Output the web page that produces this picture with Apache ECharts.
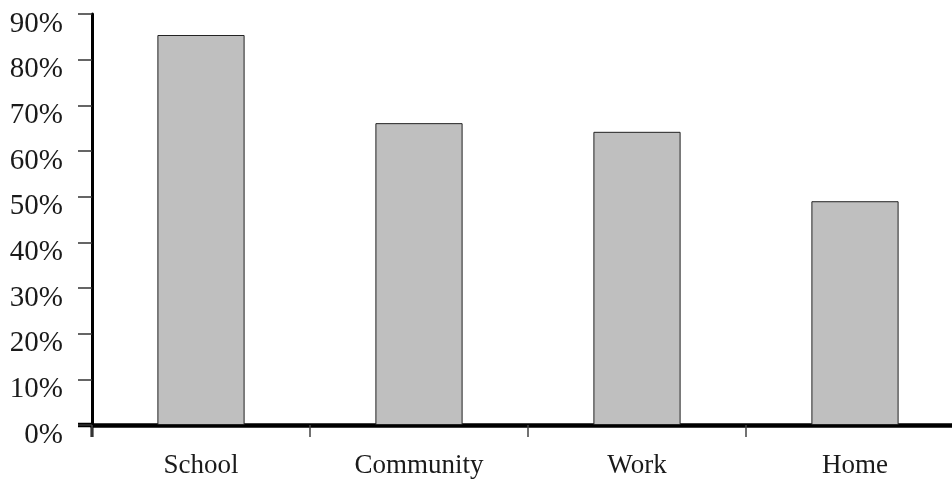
<!DOCTYPE html>
<html>
<head>
<meta charset="utf-8">
<script src="https://cdn.jsdelivr.net/npm/echarts@6/dist/echarts.min.js"></script>
<style>
html,body{margin:0;padding:0;background:#fff;}
#chart{width:952px;height:480px;}
</style>
</head>
<body>
<div id="chart"></div>
<script>
const categories = ['School', 'Community', 'Work', 'Home'];
const values = [85.4, 66.1, 64.2, 49.0];
const yTicks = [0, 10, 20, 30, 40, 50, 60, 70, 80, 90];

const chart = echarts.init(document.getElementById('chart'), null, {renderer: 'canvas'});
const font = '"Liberation Serif", "Times New Roman", serif';
chart.setOption({
  animation: false,
  backgroundColor: '#ffffff',
  grid: {left: 92, top: 14, width: 872, height: 411, containLabel: false, outerBoundsMode: 'none'},
  xAxis: {
    type: 'category',
    data: categories,
    boundaryGap: true,
    axisLine: {show: true, lineStyle: {color: '#000', width: 4.5}},
    axisTick: {show: true, interval: 0, length: 12, lineStyle: {color: '#444', width: 1.5}},
    axisLabel: {interval: 0, margin: 27, fontFamily: font, fontSize: 27, color: '#1a1a1a'},
    splitLine: {show: false}
  },
  yAxis: {
    type: 'value',
    min: yTicks[0],
    max: yTicks[yTicks.length - 1],
    interval: 10,
    axisLine: {show: true, lineStyle: {color: '#000', width: 3}},
    axisTick: {show: true, length: 14, lineStyle: {color: '#333', width: 1.5}},
    axisLabel: {margin: 29, fontFamily: font, fontSize: 29, color: '#1a1a1a',
      verticalAlign: 'top', lineHeight: 20, formatter: v => v + '%'},
    splitLine: {show: false}
  },
  series: [{
    type: 'bar',
    data: values,
    barWidth: '40%',
    itemStyle: {color: '#bfbfbf', borderColor: '#222', borderWidth: 1}
  }]
});

// axis decorations derived from the axis scales
const gridLeft = 92;
const y0 = chart.convertToPixel({yAxisIndex: 0}, 0);
chart.setOption({
  graphic: [
    {type: 'line', shape: {x1: gridLeft - 14, y1: y0, x2: gridLeft, y2: y0},
     style: {stroke: '#000', lineWidth: 4.5}},
    {type: 'line', shape: {x1: gridLeft, y1: y0, x2: gridLeft, y2: y0 + 12},
     style: {stroke: '#000', lineWidth: 3}}
  ]
});
</script>
</body>
</html>
